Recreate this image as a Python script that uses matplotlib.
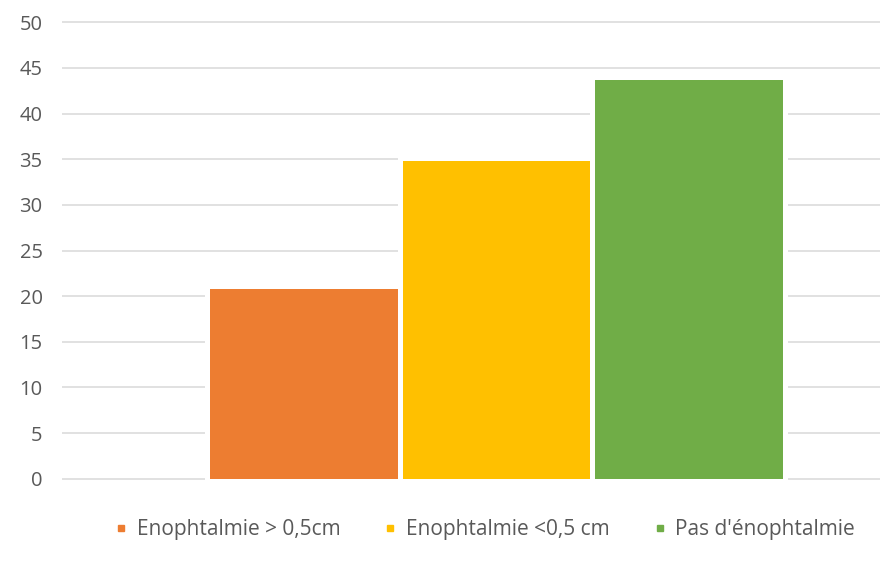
import matplotlib
matplotlib.use("Agg")
import matplotlib.pyplot as plt
import matplotlib.patheffects as pe
from matplotlib.lines import Line2D

# Data
series = ["Enophtalmie > 0,5cm", "Enophtalmie <0,5 cm", "Pas d'énophtalmie"]
values = [20.8, 34.8, 43.7]
colors = ["#ED7D31", "#FFC000", "#70AD47"]
yticks = [0, 5, 10, 15, 20, 25, 30, 35, 40, 45, 50]

plt.rcParams["font.family"] = ["Open Sans", "DejaVu Sans"]
text_color = "#595959"

fig = plt.figure(figsize=(8.88, 5.68), dpi=100)
ax = fig.add_axes([0.0698, 0.1491, 0.9212, 0.8197])

positions = [0, 1, 2]
for x, v, c in zip(positions, values, colors):
    ax.bar(x, v, width=0.975, color=c, linewidth=0, zorder=3,
           path_effects=[pe.withStroke(linewidth=7.2, foreground="white")])

ax.set_xlim(-1.257, 2.993)
ax.set_ylim(-0.5, 50.5)
ax.set_yticks(yticks)
ax.set_xticks([])
ax.yaxis.grid(True, color="#d9d9d9", linewidth=1.1, zorder=0)
ax.set_axisbelow(True)
for s in ax.spines.values():
    s.set_visible(False)
ax.tick_params(axis="y", length=0, pad=14, labelsize=14.5, labelcolor=text_color)

handles = [Line2D([], [], marker="s", markersize=5, linestyle="none",
                  markerfacecolor=c, markeredgecolor=c) for c in colors]
fig.legend(handles, series, loc="center", bbox_to_anchor=(485 / 888, 1 - 530 / 568),
           ncol=3, frameon=False, fontsize=15, labelcolor=text_color,
           handlelength=0.6, handletextpad=0.45, columnspacing=2.1,
           borderaxespad=0, borderpad=0)

fig.savefig("out.png", dpi=100, facecolor="white")
